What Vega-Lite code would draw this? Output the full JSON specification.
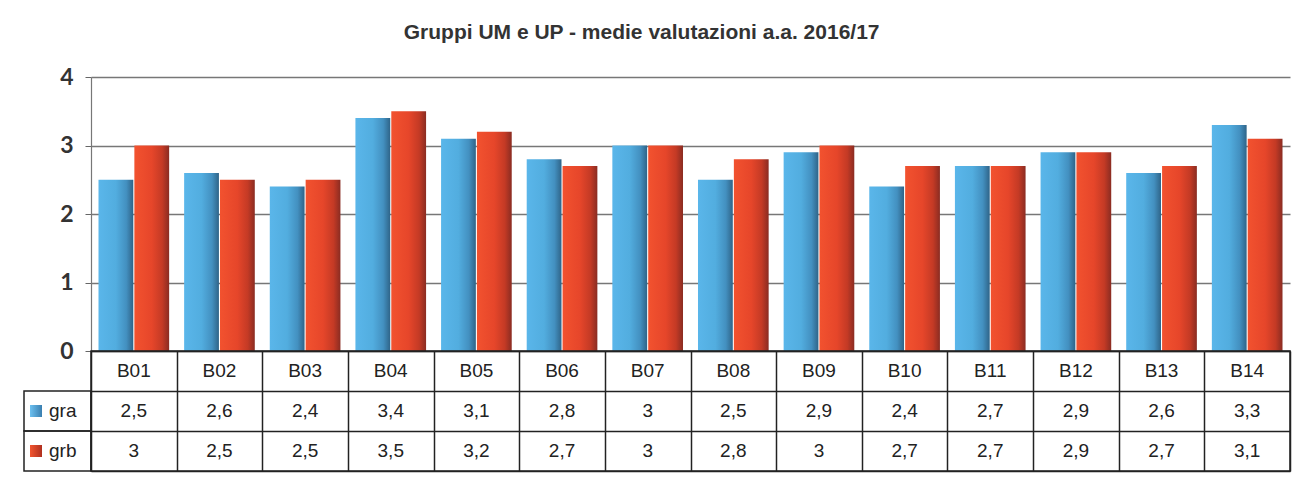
{
  "$schema": "https://vega.github.io/schema/vega-lite/v6.json",
  "background": "white",
  "padding": {"left": 22, "top": 22, "right": 10, "bottom": 10},
  "title": {"text": "Gruppi UM e UP - medie valutazioni a.a. 2016/17", "font": "Liberation Sans", "fontSize": 21, "fontWeight": "bold", "color": "#333333", "anchor": "middle", "dx": -15, "offset": 23},
  "config": {
    "locale": {"number": {"decimal": ",", "thousands": ".", "grouping": [3], "currency": ["", " €"]}}
  },
  "datasets": {
    "vals": [
      {"cat": "B01", "series": "gra", "value": 2.5}, {"cat": "B01", "series": "grb", "value": 3},
      {"cat": "B02", "series": "gra", "value": 2.6}, {"cat": "B02", "series": "grb", "value": 2.5},
      {"cat": "B03", "series": "gra", "value": 2.4}, {"cat": "B03", "series": "grb", "value": 2.5},
      {"cat": "B04", "series": "gra", "value": 3.4}, {"cat": "B04", "series": "grb", "value": 3.5},
      {"cat": "B05", "series": "gra", "value": 3.1}, {"cat": "B05", "series": "grb", "value": 3.2},
      {"cat": "B06", "series": "gra", "value": 2.8}, {"cat": "B06", "series": "grb", "value": 2.7},
      {"cat": "B07", "series": "gra", "value": 3}, {"cat": "B07", "series": "grb", "value": 3},
      {"cat": "B08", "series": "gra", "value": 2.5}, {"cat": "B08", "series": "grb", "value": 2.8},
      {"cat": "B09", "series": "gra", "value": 2.9}, {"cat": "B09", "series": "grb", "value": 3},
      {"cat": "B10", "series": "gra", "value": 2.4}, {"cat": "B10", "series": "grb", "value": 2.7},
      {"cat": "B11", "series": "gra", "value": 2.7}, {"cat": "B11", "series": "grb", "value": 2.7},
      {"cat": "B12", "series": "gra", "value": 2.9}, {"cat": "B12", "series": "grb", "value": 2.9},
      {"cat": "B13", "series": "gra", "value": 2.6}, {"cat": "B13", "series": "grb", "value": 2.7},
      {"cat": "B14", "series": "gra", "value": 3.3}, {"cat": "B14", "series": "grb", "value": 3.1}
    ]
  },
  "spacing": 0,
  "bounds": "flush",
  "vconcat": [
    {
      "width": 1199,
      "height": 274,
      "data": {"name": "vals"},
      "view": {"stroke": null},
      "mark": {"type": "bar"},
      "encoding": {
        "x": {"field": "cat", "type": "nominal", "scale": {"paddingInner": 0.175, "paddingOuter": 0.0875}, "axis": null},
        "xOffset": {"field": "series", "type": "nominal", "scale": {"paddingInner": 0.03}},
        "y": {"field": "value", "type": "quantitative", "scale": {"domain": [0, 4]},
          "axis": {"title": null, "values": [0, 1, 2, 3, 4], "labelFont": "Lato", "labelFontWeight": "bold", "labelFontSize": 23, "labelColor": "#333333", "labelPadding": 12, "tickSize": 6, "tickColor": "#666666", "domainColor": "#777777", "domainWidth": 1.2, "gridColor": "#777777", "gridWidth": 1.5, "gridOpacity": 1}},
        "fill": {"condition": {"test": "datum.series == 'gra'", "value": {"gradient": "linear", "x1": 0, "y1": 0, "x2": 1, "y2": 0, "stops": [{"offset": 0, "color": "#5ab6ea"}, {"offset": 0.5, "color": "#52addf"}, {"offset": 0.8, "color": "#4390c0"}, {"offset": 1, "color": "#2f6488"}]}},
          "value": {"gradient": "linear", "x1": 0, "y1": 0, "x2": 1, "y2": 0, "stops": [{"offset": 0, "color": "#f2522f"}, {"offset": 0.5, "color": "#e6462a"}, {"offset": 0.8, "color": "#c43a25"}, {"offset": 1, "color": "#8a2c22"}]}}
      }
    },
    {
      "width": 1199,
      "height": 120,
      "data": {"name": "vals"},
      "view": {"stroke": "#222222", "strokeWidth": 1.5},
      "layer": [
        {
          "transform": [{"filter": "datum.series == 'gra'"}],
          "mark": {"type": "text", "font": "Liberation Sans", "fontSize": 19, "color": "#222222"},
          "encoding": {
            "x": {"field": "cat", "type": "nominal", "scale": {"paddingInner": 0, "paddingOuter": 0},
              "axis": {"orient": "top", "title": null, "labels": false, "ticks": false, "domain": false, "grid": true, "tickBand": "extent", "minExtent": 0, "maxExtent": 0, "offset": 0, "labelPadding": 0, "gridColor": "#222222", "gridWidth": 1.5, "gridOpacity": 1}},
            "y": {"datum": "hdr", "type": "nominal", "scale": {"domain": ["hdr", "gra", "grb"], "paddingInner": 0, "paddingOuter": 0},
              "axis": {"title": null, "labels": false, "ticks": false, "domain": false, "grid": true, "tickBand": "extent", "minExtent": 0, "maxExtent": 0, "labelPadding": 0, "gridColor": "#222222", "gridWidth": 1.5, "gridOpacity": 1}},
            "text": {"field": "cat"}
          }
        },
        {
          "mark": {"type": "text", "font": "Liberation Sans", "fontSize": 19, "color": "#222222"},
          "encoding": {
            "x": {"field": "cat", "type": "nominal"},
            "y": {"field": "series", "type": "nominal"},
            "text": {"field": "value", "type": "quantitative", "format": ".1~f"}
          }
        },
        {
          "transform": [{"filter": "datum.cat == 'B01'"}],
          "mark": {"type": "rect", "fill": "white", "fillOpacity": 0, "stroke": "#222222", "strokeWidth": 1.5, "xOffset": -67, "x2Offset": 0},
          "encoding": {
            "x": {"datum": "B01", "type": "nominal", "bandPosition": 0},
            "x2": {"datum": "B01", "bandPosition": 0},
            "y": {"field": "series", "type": "nominal"}
          }
        },
        {
          "transform": [{"filter": "datum.cat == 'B01'"}],
          "mark": {"type": "point", "shape": "square", "filled": true, "size": 144, "xOffset": -55, "opacity": 1},
          "encoding": {
            "x": {"datum": "B01", "type": "nominal", "bandPosition": 0},
            "y": {"field": "series", "type": "nominal"},
            "fill": {"condition": {"test": "datum.series == 'gra'", "value": {"gradient": "linear", "x1": 0, "y1": 0, "x2": 1, "y2": 0, "stops": [{"offset": 0, "color": "#6cc0f0"}, {"offset": 1, "color": "#3a7fb0"}]}},
              "value": {"gradient": "linear", "x1": 0, "y1": 0, "x2": 1, "y2": 0, "stops": [{"offset": 0, "color": "#f2552f"}, {"offset": 1, "color": "#b0301f"}]}}
          }
        },
        {
          "transform": [{"filter": "datum.cat == 'B01'"}],
          "mark": {"type": "text", "align": "left", "xOffset": -42, "font": "Liberation Sans", "fontSize": 19, "color": "#222222"},
          "encoding": {
            "x": {"datum": "B01", "type": "nominal", "bandPosition": 0},
            "y": {"field": "series", "type": "nominal"},
            "text": {"field": "series"}
          }
        }
      ]
    }
  ]
}
